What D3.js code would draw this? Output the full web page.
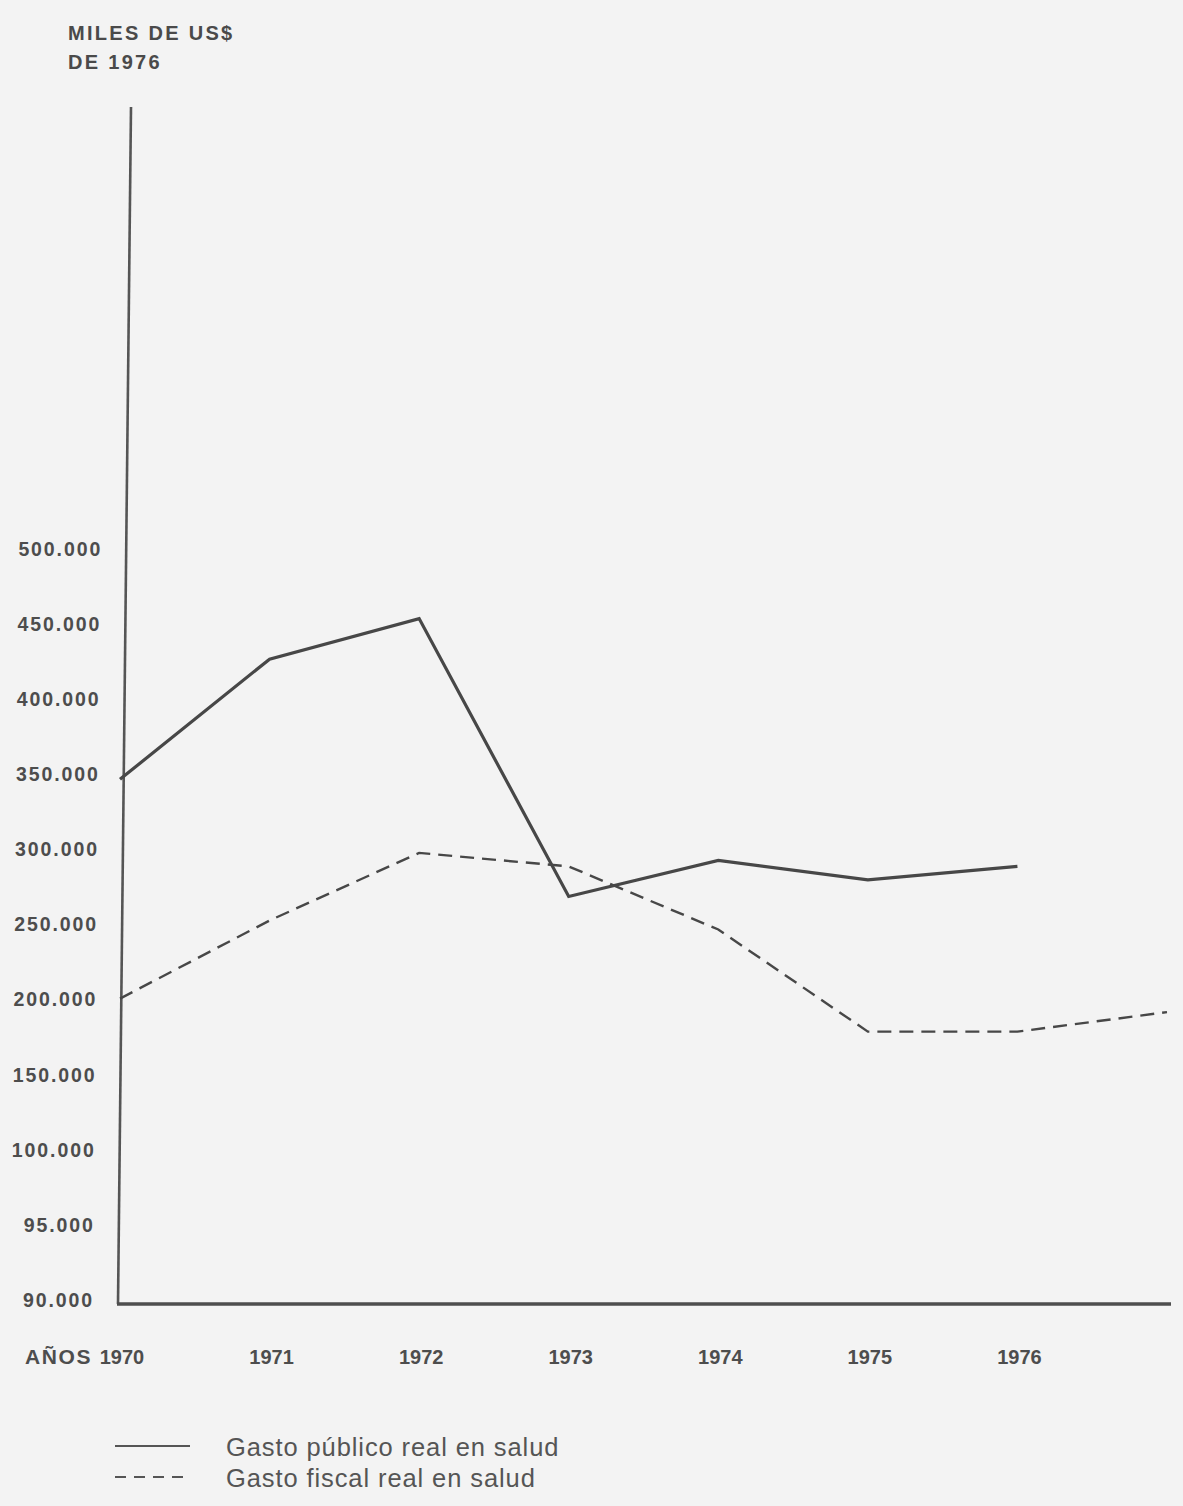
<!DOCTYPE html>
<html><head><meta charset="utf-8">
<script src="https://cdn.jsdelivr.net/npm/d3@7"></script>
<style>
html,body{margin:0;padding:0;background:#f3f3f3}
svg{display:block}
</style>
</head><body>
<svg id="chart" width="1183" height="1506"></svg>
<script>
// ---- data ----
const years = [1970, 1971, 1972, 1973, 1974, 1975, 1976, 1977];
const yearLabels = ["1970", "1971", "1972", "1973", "1974", "1975", "1976"];
const gastoPublico = [348000, 428000, 455000, 270000, 294000, 281000, 290000];          // 1970-1976
const gastoFiscal  = [202000, 254000, 299000, 290000, 248000, 180000, 180000, 193000];  // 1970-1977
const yTicks = [90000, 95000, 100000, 150000, 200000, 250000, 300000, 350000, 400000, 450000, 500000];
const yTickLabels = ["90.000", "95.000", "100.000", "150.000", "200.000", "250.000", "300.000", "350.000", "400.000", "450.000", "500.000"];
const titleLines = ["MILES DE US$", "DE 1976"];
const axisXTitle = "AÑOS";
const legendLabels = ["Gasto público real en salud", "Gasto fiscal real en salud"];

// ---- layout ----
const svg = d3.select("#chart");
const ink = "#474747";
const yBottom = 1302, yStep = 75.1;
const x = d3.scaleLinear().domain([1970, 1977]).range([120, 1167]);
// the printed axis is evenly spaced between uneven values -> polylinear scale
const y = d3.scaleLinear().domain(yTicks).range(yTicks.map((d, i) => yBottom - i * yStep));

const axisTop = 107, axisBase = 1304;
const axisXAt = py => 131 - 13 * (py - axisTop) / (axisBase - axisTop); // scanned axis leans slightly

// title
svg.append("g").selectAll("text").data(titleLines).join("text")
  .attr("x", 68).attr("y", (d, i) => 40 + i * 29)
  .attr("font-family", "Liberation Sans, Arial, sans-serif")
  .attr("font-weight", "bold").attr("font-size", 20)
  .attr("letter-spacing", 2.3)
  .attr("fill", "#4a4a4a").text(d => d);

// y axis line
svg.append("line")
  .attr("x1", axisXAt(axisTop)).attr("y1", axisTop)
  .attr("x2", axisXAt(axisBase)).attr("y2", axisBase)
  .attr("stroke", "#555").attr("stroke-width", 2.6);

// x axis line
svg.append("line")
  .attr("x1", axisXAt(axisBase) - 1).attr("y1", axisBase)
  .attr("x2", 1171).attr("y2", axisBase)
  .attr("stroke", "#4e4e4e").attr("stroke-width", 3.4);

// y tick labels
svg.append("g").selectAll("text").data(yTicks).join("text")
  .attr("x", d => axisXAt(y(d)) - 24)
  .attr("y", d => y(d) - 2)
  .attr("dy", "0.35em")
  .attr("text-anchor", "end")
  .attr("font-family", "Liberation Sans, Arial, sans-serif")
  .attr("font-weight", "bold").attr("font-size", 19.5)
  .attr("letter-spacing", 1.9)
  .attr("fill", "#4d4d4d")
  .text((d, i) => yTickLabels[i]);

// x tick labels
svg.append("g").selectAll("text").data(yearLabels).join("text")
  .attr("x", d => x(+d) + 2)
  .attr("y", 1357)
  .attr("dy", "0.35em")
  .attr("text-anchor", "middle")
  .attr("font-family", "Liberation Sans, Arial, sans-serif")
  .attr("font-weight", "bold").attr("font-size", 20)
  .attr("fill", "#4d4d4d")
  .text(d => d);

svg.append("text")
  .attr("x", x(1970) - 28).attr("y", 1357).attr("dy", "0.35em")
  .attr("text-anchor", "end")
  .attr("font-family", "Liberation Sans, Arial, sans-serif")
  .attr("font-weight", "bold").attr("font-size", 21)
  .attr("letter-spacing", 1.6)
  .attr("fill", "#4d4d4d")
  .text(axisXTitle);

// lines
const line = d3.line().x(d => x(d[0])).y(d => y(d[1]));
svg.append("path")
  .datum(gastoPublico.map((v, i) => [years[i], v]))
  .attr("d", line).attr("fill", "none")
  .attr("stroke", ink).attr("stroke-width", 3.2)
  .attr("stroke-linejoin", "miter");

svg.append("path")
  .datum(gastoFiscal.map((v, i) => [years[i], v]))
  .attr("d", line).attr("fill", "none")
  .attr("stroke", ink).attr("stroke-width", 2.4)
  .attr("stroke-dasharray", "14,8");

// legend
const leg = svg.append("g");
const legY = [1446, 1477];
leg.selectAll("line").data(legendLabels).join("line")
  .attr("x1", 115).attr("x2", 190)
  .attr("y1", (d, i) => legY[i]).attr("y2", (d, i) => legY[i])
  .attr("stroke", "#555").attr("stroke-width", 2)
  .attr("stroke-dasharray", (d, i) => i === 0 ? null : "11,8");
leg.selectAll("text").data(legendLabels).join("text")
  .attr("x", 226).attr("y", (d, i) => legY[i] + 1)
  .attr("dy", "0.35em")
  .attr("font-family", "Liberation Sans, Arial, sans-serif")
  .attr("font-size", 25.5)
  .attr("letter-spacing", 0.9)
  .attr("fill", "#555")
  .text(d => d);
</script>
</body></html>
